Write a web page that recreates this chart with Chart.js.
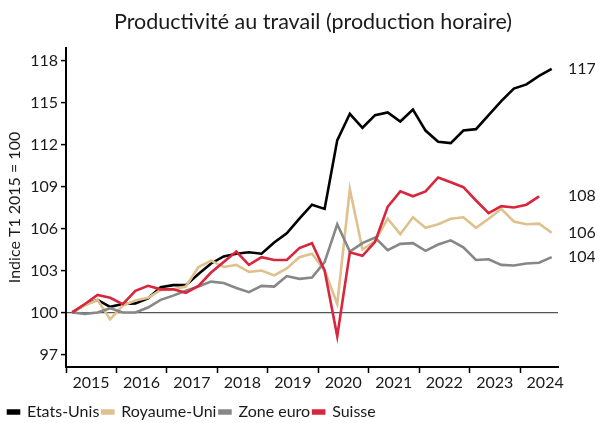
<!DOCTYPE html>
<html>
<head>
<meta charset="utf-8">
<script src="https://cdn.jsdelivr.net/npm/chart.js@4"></script>
<style>
  body { margin: 0; background: #fff; }
  #wrap { width: 595px; height: 423px; }
</style>
</head>
<body>
<div id="wrap"><canvas id="myChart"></canvas></div>
<script>
const ctx = document.getElementById('myChart');

// quarterly, T1 2015 .. T3 2024
const years = [2015, 2016, 2017, 2018, 2019, 2020, 2021, 2022, 2023, 2024];
const yTicks = [97, 100, 103, 106, 109, 112, 115, 118];

const etatsUnis = [100, 100.55, 100.9, 100.4, 100.6, 100.65, 101.0, 101.8, 101.95, 101.95,
    102.75, 103.5, 104.0, 104.2, 104.3, 104.2, 105.0, 105.65, 106.7, 107.7,
    107.4, 112.3, 114.2, 113.2, 114.1, 114.3, 113.65, 114.5, 113.0, 112.2,
    112.1, 113.0, 113.1, 114.1, 115.1, 116.0, 116.3, 116.9, 117.4];
const royaumeUni = [100, 100.5, 100.9, 99.5, 100.5, 100.85, 101.05, 101.6, 101.65, 101.85,
    103.25, 103.7, 103.25, 103.4, 102.9, 103.0, 102.65, 103.15, 103.95, 104.2,
    103.0, 100.6, 108.8, 104.5, 105.1, 106.7, 105.6, 106.8, 106.05, 106.3,
    106.7, 106.8, 106.05, 106.7, 107.4, 106.5, 106.3, 106.35, 105.7];
const zoneEuro = [100, 99.9, 100.0, 100.3, 100.0, 100.0, 100.35, 100.9, 101.2, 101.55,
    101.85, 102.2, 102.1, 101.75, 101.45, 101.9, 101.85, 102.6, 102.4, 102.5,
    103.6, 106.3, 104.35, 104.95, 105.35, 104.45, 104.9, 104.95, 104.4, 104.85,
    105.15, 104.65, 103.75, 103.8, 103.4, 103.35, 103.5, 103.55, 103.95];
const suisse = [100, 100.6, 101.25, 101.05, 100.6, 101.55, 101.9, 101.65, 101.65, 101.4,
    101.9, 102.85, 103.6, 104.35, 103.4, 103.95, 103.75, 103.75, 104.6, 104.95,
    103.0, 98.3, 104.3, 104.05, 105.05, 107.55, 108.65, 108.3, 108.65, 109.65,
    109.3, 108.95, 108.0, 107.1, 107.6, 107.5, 107.7, 108.3];

const titleText = 'Productivité au travail (production horaire)';
const FONT = 'Lato, "DejaVu Sans", sans-serif';

function pts(arr){
    return arr.map((v, i) => ({x: i + 0.5, y: v}));
}

function ds(label, arr, color, order){
    return {
        label: label,
        data: pts(arr),
        borderColor: color,
        backgroundColor: color,
        borderWidth: 2.6,
        pointRadius: 0,
        tension: 0,
        order: order
    };
}

// title (a bit right of centre, like the original) and value labels at line ends
const extras = {
    id: 'extras',
    afterDatasetsDraw(chart){
        const c = chart.ctx;
        const y = chart.scales.y;
        c.save();
        c.fillStyle = '#1a1a1a';
        c.textBaseline = 'middle';
        c.font = '21.5px ' + FONT;
        c.textAlign = 'center';
        c.fillText(titleText, 313, 22);
        c.font = '16px ' + FONT;
        c.textAlign = 'left';
        chart.data.datasets.forEach(d => {
            const last = d.data[d.data.length - 1].y;
            c.fillText(Math.round(last), chart.chartArea.right + 10, y.getPixelForValue(last));
        });
        c.restore();
    }
};

new Chart(ctx, {
    type: 'line',
    data: {
        datasets: [
            ds('Etats-Unis', etatsUnis, '#000000', 3),
            ds('Royaume-Uni', royaumeUni, '#dfc18d', 2),
            ds('Zone euro', zoneEuro, '#878787', 1),
            ds('Suisse', suisse, '#d7263d', 0)
        ]
    },
    options: {
        responsive: true,
        maintainAspectRatio: false,
        animation: false,
        layout: { padding: { left: 5, right: 37, top: 48, bottom: -7 } },
        plugins: {
            title: { display: false },
            legend: {
                position: 'bottom',
                align: 'start',
                labels: {
                    color: '#1a1a1a',
                    font: { family: FONT, size: 16 },
                    boxWidth: 11,
                    boxHeight: 3,
                    padding: 3,
                    sort: (a, b) => a.datasetIndex - b.datasetIndex
                }
            },
            tooltip: { enabled: false }
        },
        scales: {
            x: {
                type: 'linear',
                min: 0,
                max: 39,
                afterBuildTicks: s => { s.ticks = years.map((yr, i) => ({value: i * 4})); },
                afterFit: s => { s.height = 34; },
                ticks: {
                    color: '#1a1a1a',
                    font: { family: FONT, size: 16 },
                    labelOffset: 25,
                    padding: 0,
                    maxRotation: 0,
                    autoSkip: false,
                    callback: (v) => String(years[v / 4])
                },
                grid: { drawOnChartArea: false, tickLength: 6, tickColor: '#000', tickWidth: 1.5 },
                border: { color: '#000', width: 2 }
            },
            y: {
                min: 96.1,
                max: 118.9,
                afterBuildTicks: s => { s.ticks = yTicks.map(v => ({value: v})); },
                afterFit: s => { s.width = 61; },
                title: {
                    display: true,
                    text: 'Indice T1 2015 = 100',
                    color: '#1a1a1a',
                    font: { family: FONT, size: 16 },
                    padding: 0
                },
                ticks: {
                    color: '#1a1a1a',
                    font: { family: FONT, size: 16 },
                    padding: 3
                },
                grid: {
                    color: c => (c.tick && c.tick.value === 100) ? '#555555' : 'rgba(0,0,0,0)',
                    lineWidth: 1.2,
                    tickColor: '#000',
                    tickLength: 5,
                    tickWidth: 1.5
                },
                border: { color: '#000', width: 2 }
            }
        }
    },
    plugins: [extras]
});
</script>
</body>
</html>
